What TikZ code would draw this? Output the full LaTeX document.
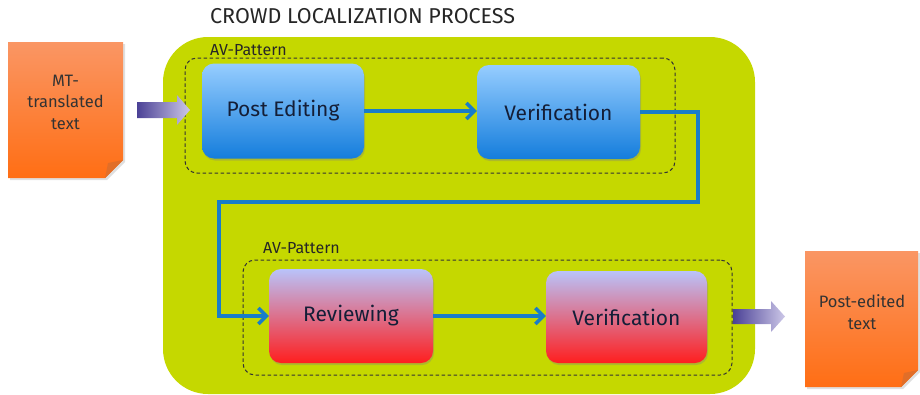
\documentclass[tikz,border=0pt]{standalone}
\usepackage{fontspec}
\setmainfont{Fira Sans}
\usetikzlibrary{arrows.meta,shadows}
\definecolor{lime}{RGB}{197,216,0}
\definecolor{bluetop}{RGB}{150,205,255}
\definecolor{bluebot}{RGB}{20,125,220}
\definecolor{redtop}{RGB}{185,195,250}
\definecolor{redbot}{RGB}{255,30,30}
\definecolor{ortop}{RGB}{250,150,100}
\definecolor{orbot}{RGB}{255,110,20}
\definecolor{orfold}{RGB}{225,110,40}
\definecolor{conn}{RGB}{25,125,200}
\definecolor{fatL}{RGB}{75,65,150}
\definecolor{fatR}{RGB}{205,200,232}
\definecolor{boxtext}{RGB}{20,30,55}
\begin{document}
\begin{tikzpicture}[x=1pt,y=-1pt,
  procbox/.style={rounded corners=12pt, font=\fontsize{21}{25}\selectfont, text=boxtext,
    drop shadow={opacity=0.35, shadow xshift=1pt, shadow yshift=-2pt}},
  bluebox/.style={procbox, top color=bluetop, bottom color=bluebot},
  redbox/.style={procbox, top color=redtop, bottom color=redbot},
  avbox/.style={draw=black!80, dashed, dash pattern=on 3.5pt off 2.5pt, line width=1pt, rounded corners=12pt},
  avlabel/.style={font=\fontsize{16}{18}\selectfont, text=black!85, inner sep=0pt},
  flow/.style={draw=conn, line width=3.5pt, -{Straight Barb[length=8pt,width=16pt]}},
  doctext/.style={font=\fontsize{16.5}{21.5}\selectfont, align=center, text=black!80},
  fat/.style={left color=fatL, right color=fatR},
  docshape/.style={top color=ortop, bottom color=orbot,
    drop shadow={opacity=0.25, shadow xshift=2pt, shadow yshift=-2pt}}
]
\useasboundingbox (0,0) rectangle (920,394);
% title
\node[anchor=base west, font=\fontsize{21.5}{25}\selectfont, text=black!85, inner sep=0pt] (title) at (210,23) {CROWD LOCALIZATION PROCESS};
% green area
\fill[lime, rounded corners=45pt] (163,37) rectangle (755,394);
% dashed AV-pattern boxes
\node[avbox, minimum width=490pt, minimum height=115pt] (db1) at (430,115.5) {};
\node[avbox, minimum width=489pt, minimum height=115pt] (db2) at (487.5,317.5) {};
\node[avlabel, anchor=base west] (av1) at (210,55) {AV-Pattern};
\node[avlabel, anchor=base west] (av2) at (263,253) {AV-Pattern};
% process boxes
\node[bluebox, minimum width=162pt, minimum height=95pt] (pe) at (283,111) {Post Editing};
\node[bluebox, minimum width=163pt, minimum height=94pt] (v1) at (558.5,112) {Verification};
\node[redbox, minimum width=164pt, minimum height=94pt] (rv) at (351,316) {Reviewing};
\node[redbox, minimum width=161pt, minimum height=92pt] (v2) at (626.5,317) {Verification};
% connectors
\coordinate (c1) at (698,112);
\coordinate (c2) at (698,202);
\coordinate (c3) at (219,202);
\coordinate (c4) at (219,316);
\draw[flow] (pe.east) -- (v1.west |- pe.east);
\draw[flow, line join=miter] (v1.east) -- (c1) -- (c2) -- (c3) -- (c4) -- (rv.west);
\draw[flow] (rv.east) -- (v2.west |- rv.east);
% documents
\path[docshape] (8,42) -- (123,42) -- (123,160) -- (105,178) -- (8,178) -- cycle;
\fill[orfold] (123,160) -- (105,178) -- (108,163) -- cycle;
\node[doctext] (mt) at (65.5,102) {MT-\\translated\\text};
\path[docshape] (805,251) -- (918,251) -- (918,370) -- (901,387) -- (805,387) -- cycle;
\fill[orfold] (918,370) -- (901,387) -- (904,373) -- cycle;
\node[doctext] (pt) at (862,312) {Post-edited\\text};
% fat arrows
\path[fat] (137,102) -- (177,102) -- (177,95) -- (190,110) -- (177,125) -- (177,118) -- (137,118) -- cycle;
\path[fat] (733,309) -- (771,309) -- (771,301) -- (785,316.5) -- (771,332) -- (771,324) -- (733,324) -- cycle;
\end{tikzpicture}
\end{document}
